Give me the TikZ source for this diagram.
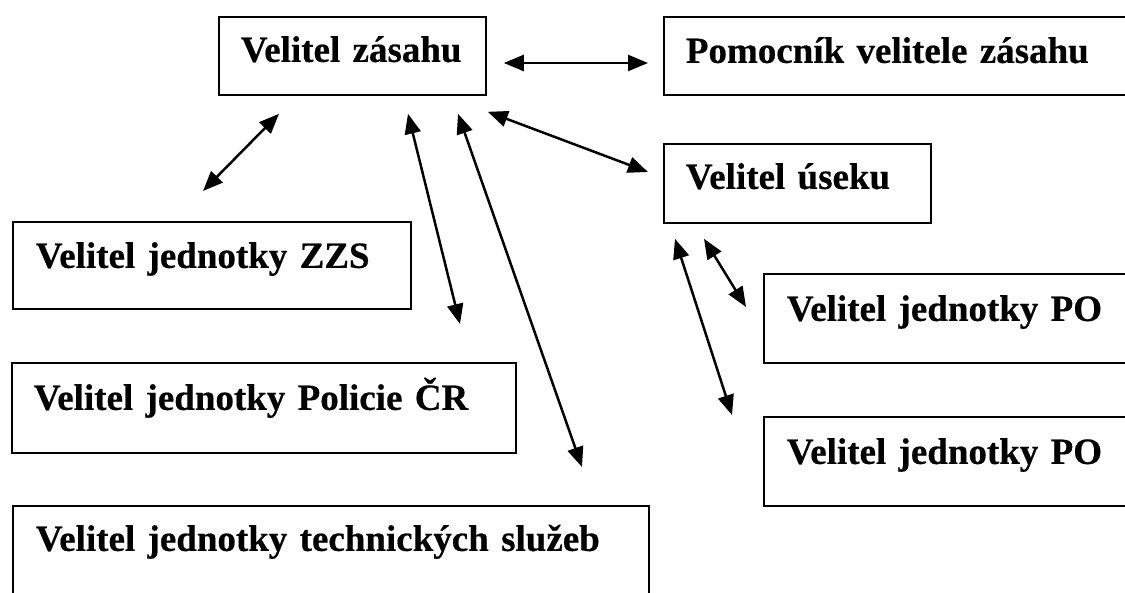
\documentclass[tikz,border=0pt]{standalone}
\usepackage{fontspec}
\setmainfont{Liberation Serif}[BoldFeatures={FakeBold=0.5}]
\usetikzlibrary{arrows.meta}
\tikzset{
  box/.style={draw, line width=1.8pt, rectangle, anchor=north west, inner ysep=0pt,
    align=left, font=\bfseries\fontsize{37}{44}\selectfont},
  link/.style={line width=2.5pt, {Triangle[length=20pt,width=16pt]}-{Triangle[length=20pt,width=16pt]}}
}
\begin{document}
\begin{tikzpicture}[x=1pt,y=-1pt]
\clip (0,0) rectangle (1125,593);
\fill[white] (0,0) rectangle (1125,593);
\node[box, inner xsep=22pt, text width=223pt, text height=45pt, text depth=33pt] (vz) at (218,16) {\mbox{Velitel zásahu}};
\node[box, inner xsep=22pt, text width=456pt, text height=46pt, text depth=32pt] (pom) at (663,16) {\mbox{Pomocník velitele zásahu}};
\node[box, inner xsep=22pt, text width=223pt, text height=45pt, text depth=34pt] (us) at (663,143) {\mbox{Velitel úseku}};
\node[box, inner xsep=23pt, text width=352pt, text height=46pt, text depth=41pt] (zzs) at (12,221) {\mbox{Velitel jednotky ZZS}};
\node[box, inner xsep=22pt, text width=460pt, text height=47pt, text depth=43pt] (pol) at (11,362) {\mbox{Velitel jednotky Policie ČR}};
\node[box, inner xsep=23pt, text width=590pt, text height=45pt, text depth=65pt] (tech) at (12,505) {\mbox{Velitel jednotky technických služeb}};
\node[box, inner xsep=23pt, text width=354pt, text height=47pt, text depth=42pt] (po1) at (763,273) {\mbox{Velitel jednotky PO}};
\node[box, inner xsep=23pt, text width=354pt, text height=47pt, text depth=42pt] (po2) at (763,416) {\mbox{Velitel jednotky PO}};

\coordinate (pomA) at ([shift={(17,47)}]vz.north east);
\coordinate (pomB) at ([shift={(-15,47)}]pom.north west);
\coordinate (zzsA) at ([shift={(61,18)}]vz.south west);
\coordinate (zzsB) at ([shift={(191,-30)}]zzs.north west);
\coordinate (polA) at ([shift={(190,18)}]vz.south west);
\coordinate (polB) at ([shift={(449,-38)}]pol.north west);
\coordinate (techA) at ([shift={(240,18)}]vz.south west);
\coordinate (techB) at ([shift={(570,-38)}]tech.north west);
\coordinate (usA) at ([shift={(1,16)}]vz.south east);
\coordinate (usB) at ([shift={(-15,29)}]us.north west);
\coordinate (po1A) at ([shift={(41,15)}]us.south west);
\coordinate (po1B) at ([shift={(-17,34)}]po1.north west);
\coordinate (po2A) at ([shift={(12,15)}]us.south west);
\coordinate (po2B) at ([shift={(-31,-1)}]po2.north west);

\draw[link] (pomA) -- (pomB);
\draw[link] (zzsA) -- (zzsB);
\draw[link] (polA) -- (polB);
\draw[link] (techA) -- (techB);
\draw[link] (usA) -- (usB);
\draw[link] (po1A) -- (po1B);
\draw[link] (po2A) -- (po2B);
\end{tikzpicture}
\end{document}
